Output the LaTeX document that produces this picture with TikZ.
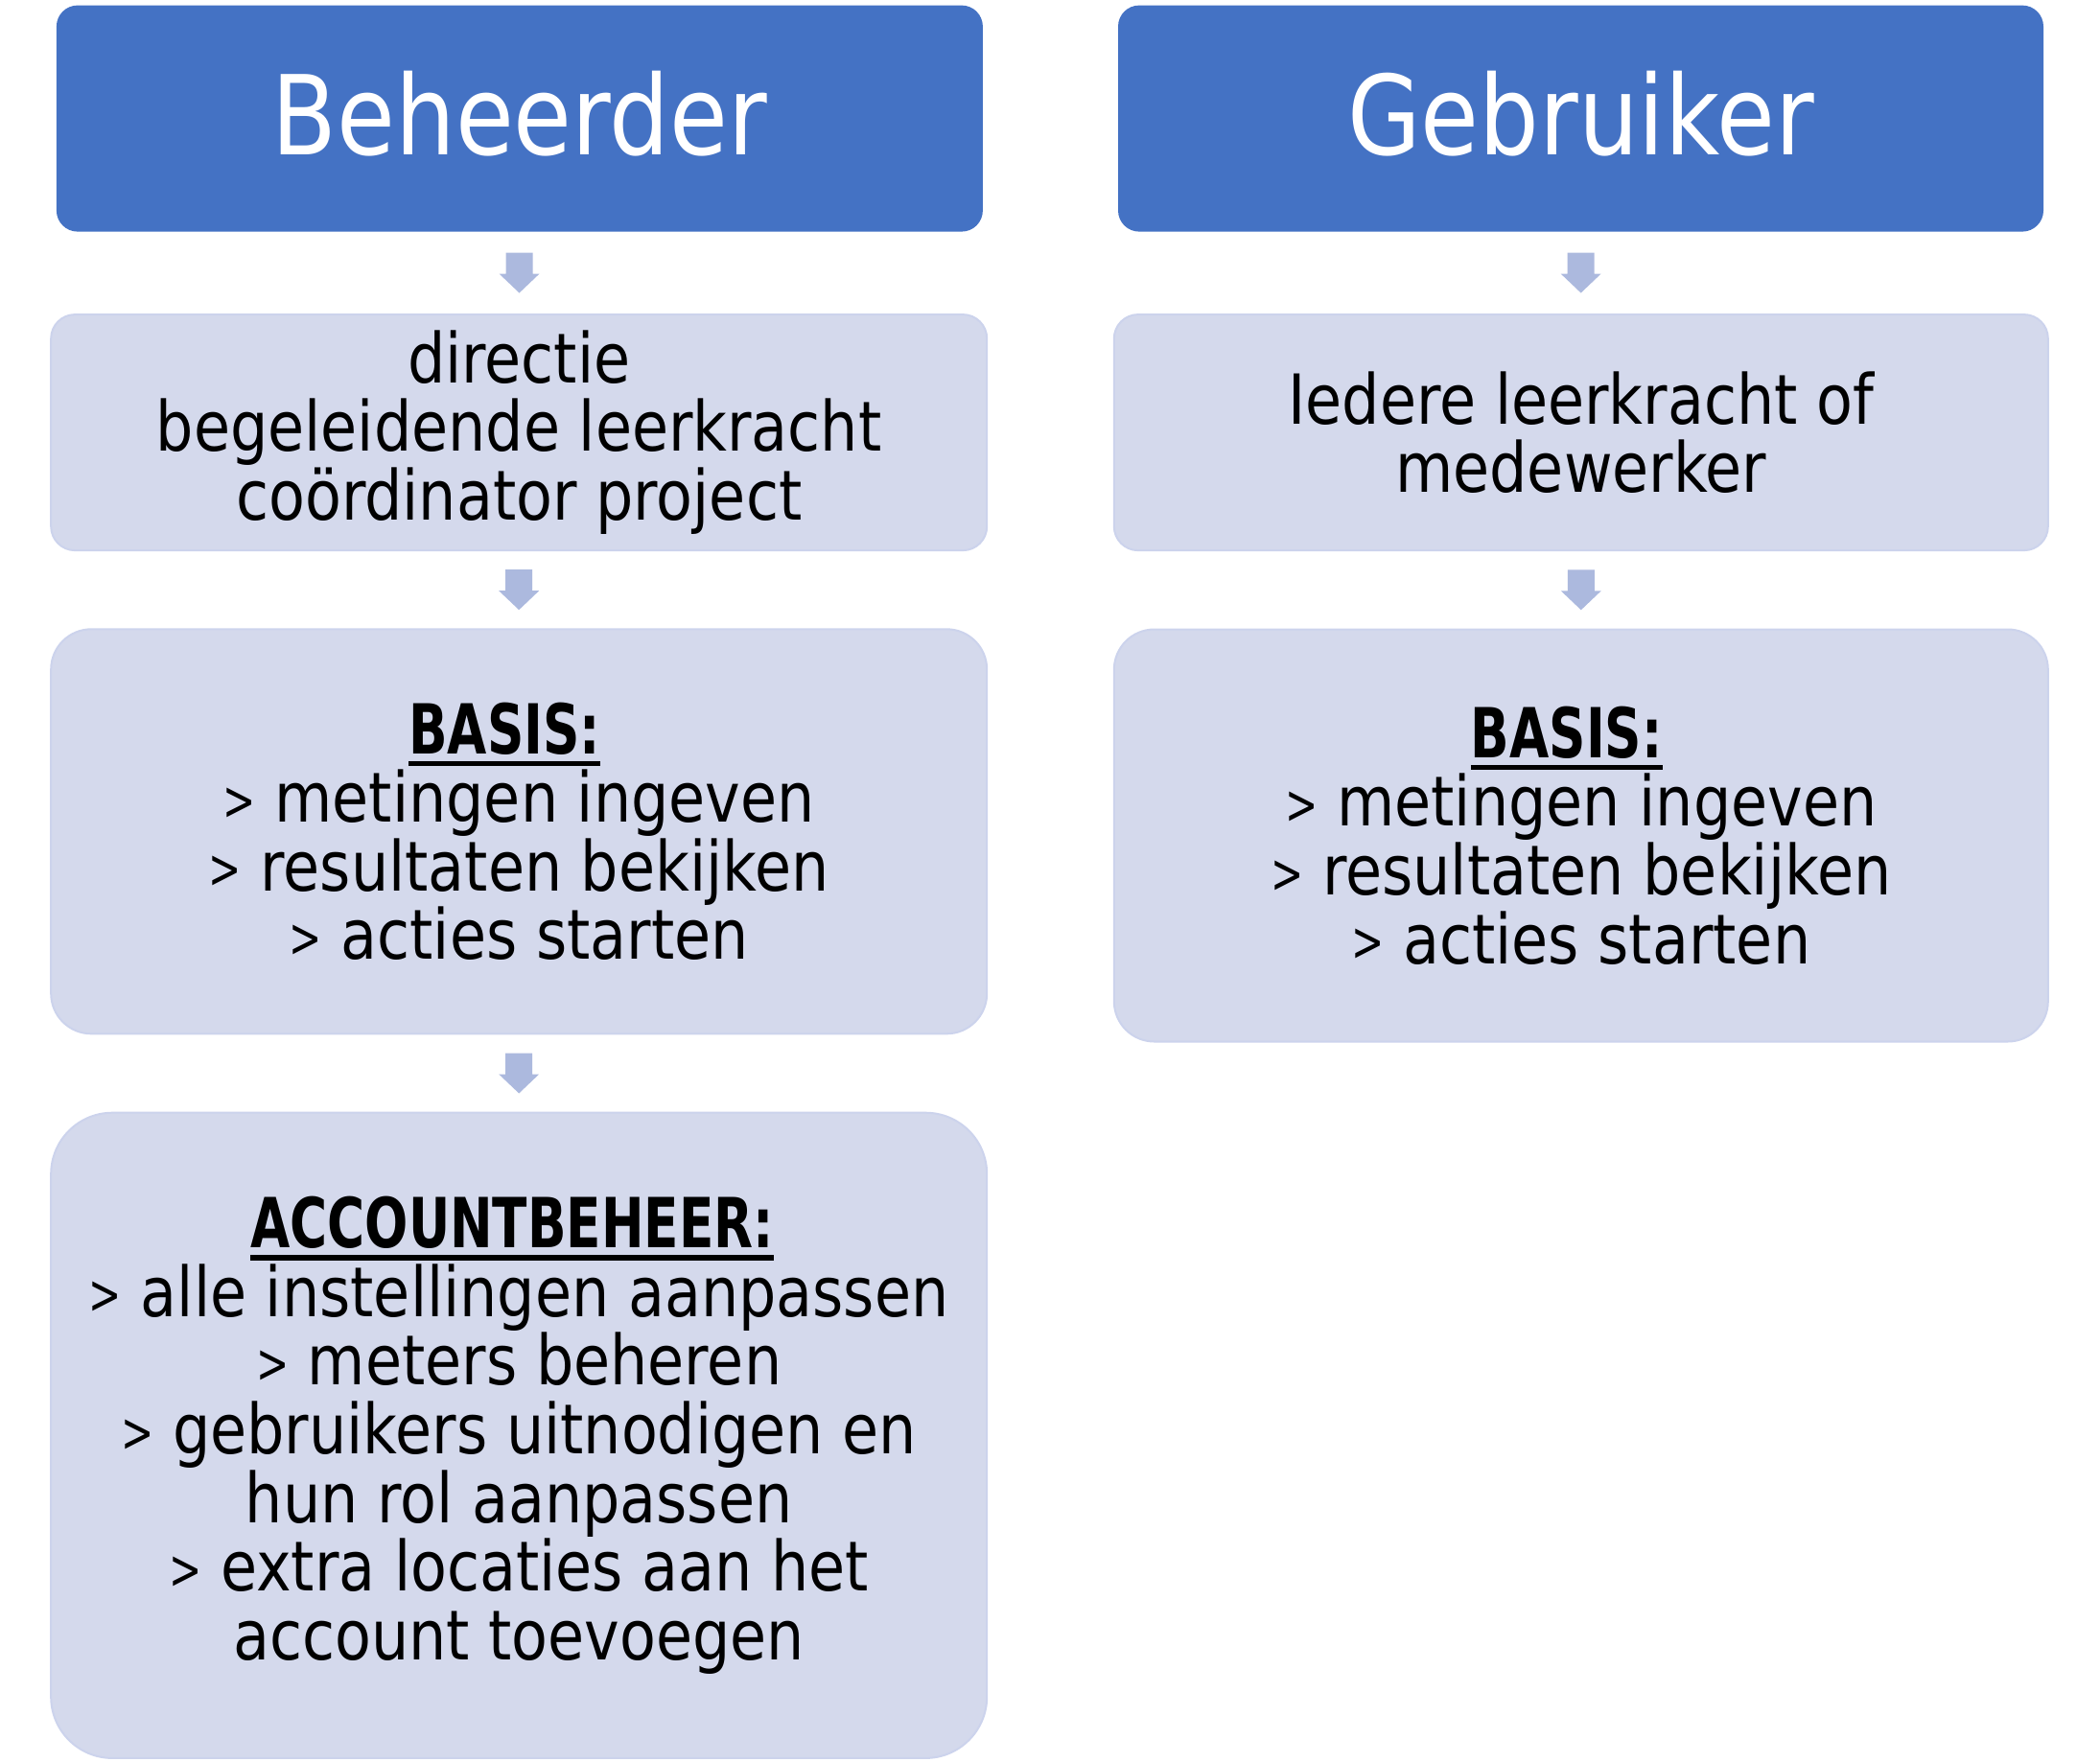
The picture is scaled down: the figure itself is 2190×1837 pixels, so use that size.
\documentclass[tikz,border=0pt]{standalone}
\usepackage{fontspec}
\setmainfont{DejaVu Sans}[FakeStretch=0.86, BoldFeatures={FakeStretch=0.74}]
\usetikzlibrary{calc}
\definecolor{titleblue}{RGB}{68,114,196}
\definecolor{lightfill}{RGB}{212,217,236}
\definecolor{lightline}{RGB}{204,211,236}
\definecolor{arrowfill}{RGB}{172,185,222}
\newcommand\myul[1]{\setbox0\hbox{#1}\rlap{\rule[-6.5pt]{\wd0}{2.8pt}}\box0}
\newcommand\mygt{\raisebox{1.2pt}{\scalebox{0.66}[0.8]{>}}}
\newcommand\titletext[1]{\raisebox{-18.7pt}[0pt][0pt]{#1}}
\begin{document}
\begin{tikzpicture}[x=0.5pt,y=-0.5pt,
  titlebox/.style={fill=titleblue, draw=none, rounded corners=11pt, inner sep=0pt,
     text=white, font=\fontsize{57.5}{69}\selectfont},
  infobox/.style={fill=lightfill, draw=lightline, line width=1pt, inner sep=0pt,
     align=center, text=black, font=\fontsize{36}{35.8}\selectfont},
  blockarrow/.pic={\fill[arrowfill] (-14,-21) -- (14,-21) -- (14,1) -- (21,1) -- (0,21) -- (-21,1) -- (-14,1) -- cycle;}
]
\useasboundingbox (0,0) rectangle (2190,1837);

\node[titlebox, minimum width=483pt, minimum height=118pt] (t1) at (541.9,123.6) {\titletext{Beheerder}};
\node[titlebox, minimum width=482.5pt, minimum height=118pt] (t2) at (1648.5,123.6) {\titletext{Gebruiker}};

\node[infobox, rounded corners=12.5pt, minimum width=488pt, minimum height=123pt] (b1) at (541.2,451.1)
  {directie\\begeleidende leerkracht\\coördinator project};
\node[infobox, rounded corners=12.5pt, minimum width=487pt, minimum height=123pt] (c1) at (1648.8,451.1)
  {Iedere leerkracht of\\medewerker};

\node[infobox, rounded corners=21pt, minimum width=488pt, minimum height=211pt] (b2) at (541.2,867.3)
  {\myul{\textbf{BASIS:}}\hspace*{15pt}\\\mygt{} metingen ingeven\hspace*{6pt}\\\mygt{} resultaten bekijken\\\mygt{} acties starten};
\node[infobox, rounded corners=21pt, minimum width=487pt, minimum height=215pt] (c2) at (1648.8,871.5)
  {\myul{\textbf{BASIS:}}\hspace*{15pt}\\\mygt{} metingen ingeven\\\mygt{} resultaten bekijken\\\mygt{} acties starten};

\node[infobox, rounded corners=32pt, minimum width=488pt, minimum height=336.6pt] (b3) at (541.2,1497.3)
  {\myul{\textbf{ACCOUNTBEHEER:}}\hspace*{7pt}\\\mygt{} alle instellingen aanpassen\\\mygt{} meters beheren\hspace*{8pt}\\\mygt{} gebruikers uitnodigen en\\hun rol aanpassen\\\mygt{} extra locaties aan het\\account toevoegen};

\coordinate (a1) at ($(t1.south)!0.5!(b1.north)$);
\coordinate (a2) at ($(b1.south)!0.5!(b2.north)$);
\coordinate (a3) at ($(b2.south)!0.5!(b3.north)$);
\coordinate (d1) at ($(t2.south)!0.5!(c1.north)$);
\coordinate (d2) at ($(c1.south)!0.5!(c2.north)$);
\pic at (a1) {blockarrow};
\pic at (a2) {blockarrow};
\pic at (a3) {blockarrow};
\pic at (d1) {blockarrow};
\pic at (d2) {blockarrow};
\end{tikzpicture}
\end{document}
